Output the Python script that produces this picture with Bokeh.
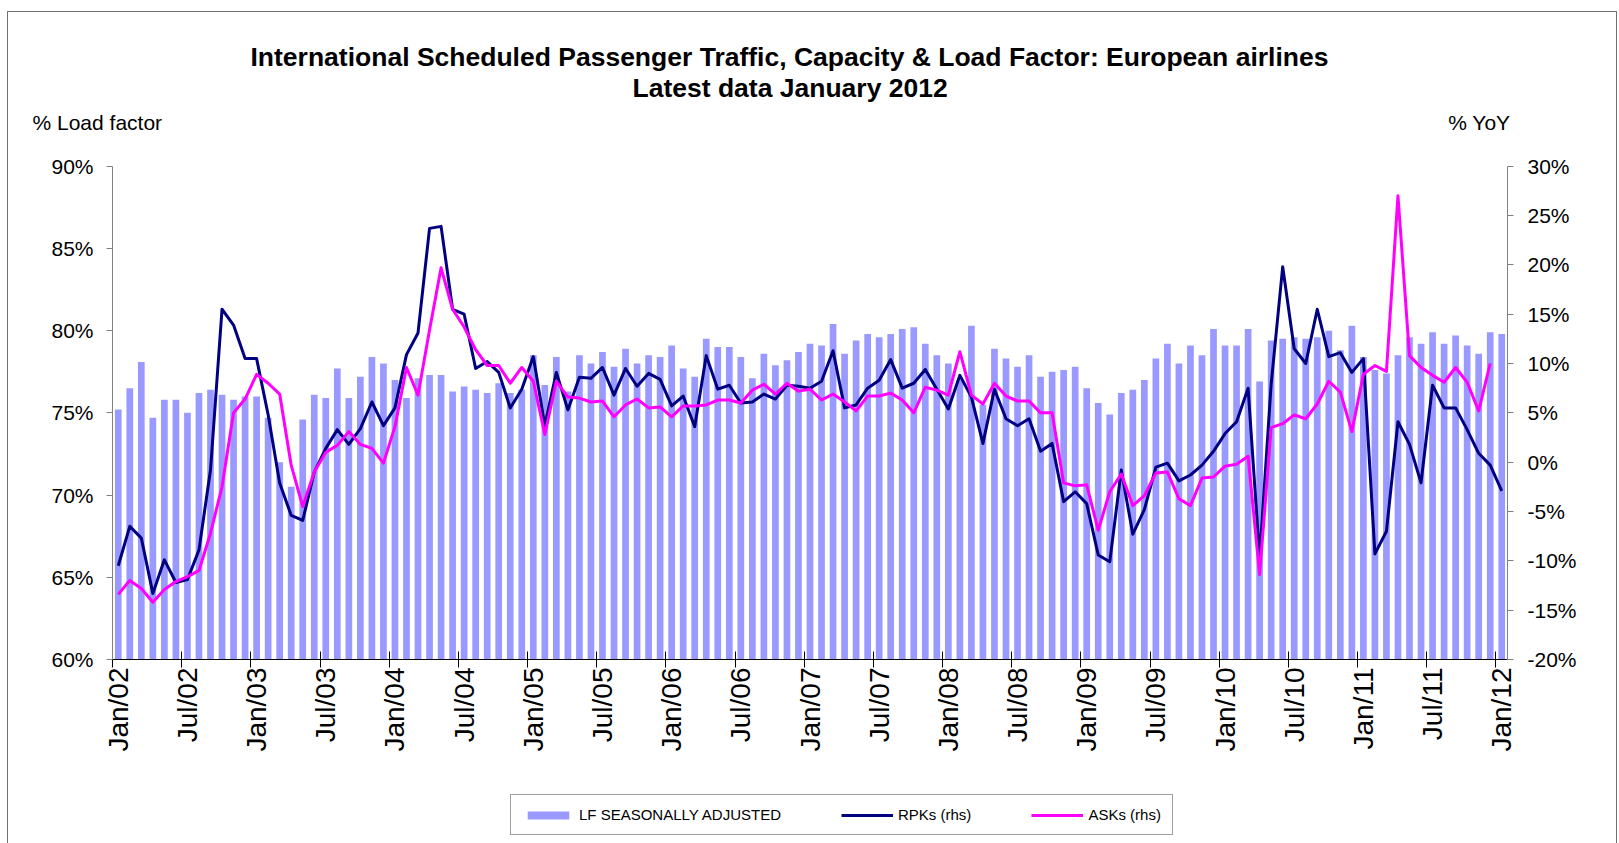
import math
from bokeh.plotting import figure
from bokeh.layouts import column
from bokeh.models import (Range1d, LinearAxis, FixedTicker, PrintfTickFormatter,
                          Legend, LegendItem, Title, ColumnDataSource)
from bokeh.embed import file_html
from bokeh.resources import INLINE

# LF seasonally adjusted (% load factor, lhs), Jan/02 .. Jan/12
lf = [75.2, 76.5, 78.1, 74.7, 75.8, 75.8, 75.0, 76.2, 76.4, 76.1, 75.8, 76.0,
      76.0, 74.7, 72.0, 70.5, 74.6, 76.1, 75.9, 77.7, 75.9, 77.2, 78.4, 78.0,
      77.0, 75.9, 77.1, 77.3, 77.3, 76.3, 76.6, 76.4, 76.2, 76.8, 76.2, 76.4,
      78.5, 76.7, 78.4, 76.3, 78.5, 78.0, 78.7, 77.8, 78.9, 78.0, 78.5, 78.4,
      79.1, 77.7, 77.2, 79.5, 79.0, 79.0, 78.4, 77.1, 78.6, 77.9, 78.2, 78.7,
      79.2, 79.1, 80.4, 78.6, 79.4, 79.8, 79.6, 79.8, 80.1, 80.2, 79.2, 78.5,
      78.0, 77.0, 80.3, 75.5, 78.9, 78.3, 77.8, 78.5, 77.2, 77.5, 77.6, 77.8,
      76.5, 75.6, 74.9, 76.2, 76.4, 77.0, 78.3, 79.2, 78.0, 79.1, 78.5, 80.1,
      79.1, 79.1, 80.1, 76.9, 79.4, 79.5, 79.6, 79.5, 79.6, 80.0, 78.8, 80.3,
      78.4, 77.6, 77.4, 78.5, 79.6, 79.2, 79.9, 79.2, 79.7, 79.1, 78.6, 79.9,
      79.8]

# RPKs % YoY (rhs)
rpk = [-10.5, -6.5, -7.7, -13.3, -9.9, -12.2, -11.9, -8.9, -0.8, 15.5, 13.9, 10.5,
       10.5, 4.8, -2.1, -5.4, -5.9, -1.0, 1.4, 3.3, 1.8, 3.4, 6.1, 3.7,
       5.5, 10.9, 13.1, 23.7, 23.9, 15.5, 15.0, 9.5, 10.2, 9.1, 5.5, 7.4,
       10.7, 3.7, 9.1, 5.3, 8.6, 8.5, 9.6, 6.8, 9.5, 7.7, 9.0, 8.4,
       5.7, 6.7, 3.6, 10.8, 7.4, 7.8, 6.0, 6.1, 6.9, 6.4, 7.8, 7.7,
       7.5, 8.2, 11.3, 5.5, 5.8, 7.5, 8.3, 10.4, 7.5, 8.0, 9.4, 7.4,
       5.4, 8.8, 6.6, 1.9, 7.4, 4.4, 3.7, 4.4, 1.1, 1.9, -4.0, -3.0,
       -4.2, -9.4, -10.1, -0.8, -7.3, -4.8, -0.5, -0.1, -1.9, -1.3, -0.3, 1.1,
       2.9, 4.1, 7.5, -9.7, 7.9, 19.8, 11.5, 10.0, 15.5, 10.7, 11.1, 9.1,
       10.5, -9.3, -7.0, 4.1, 1.8, -2.1, 7.8, 5.5, 5.5, 3.3, 0.9, -0.3,
       -2.9]

# ASKs % YoY (rhs); no value yet for Jan/12
ask = [-13.4, -12.0, -12.8, -14.2, -12.9, -12.1, -11.6, -11.0, -7.2, -2.5, 5.0, 6.4,
       8.9, 8.0, 6.9, -0.3, -4.5, -1.0, 1.0, 1.7, 3.1, 1.8, 1.4, -0.1,
       3.6, 9.6, 6.8, 13.4, 19.7, 15.5, 13.7, 11.4, 9.8, 9.8, 8.0, 9.6,
       8.2, 2.8, 8.2, 6.6, 6.5, 6.1, 6.2, 4.6, 5.8, 6.4, 5.5, 5.6,
       4.6, 5.7, 5.7, 5.8, 6.3, 6.3, 6.0, 7.3, 7.9, 6.9, 8.0, 7.2,
       7.4, 6.3, 6.9, 6.1, 5.2, 6.7, 6.7, 7.0, 6.3, 5.0, 7.6, 7.3,
       6.8, 11.2, 6.8, 5.9, 8.0, 6.7, 6.2, 6.2, 5.0, 5.0, -2.1, -2.4,
       -2.3, -6.9, -3.0, -1.2, -4.4, -3.4, -1.1, -1.0, -3.7, -4.4, -1.6, -1.5,
       -0.4, -0.2, 0.6, -11.4, 3.5, 3.9, 4.8, 4.4, 5.9, 8.2, 7.1, 3.1,
       8.9, 9.8, 9.2, 27.0, 10.8, 9.6, 8.8, 8.1, 9.6, 8.1, 5.2, 10.0,
       float("nan")]

tick_labels = ["Jan/02", "Jul/02", "Jan/03", "Jul/03", "Jan/04", "Jul/04", "Jan/05",
               "Jul/05", "Jan/06", "Jul/06", "Jan/07", "Jul/07", "Jan/08", "Jul/08",
               "Jan/09", "Jul/09", "Jan/10", "Jul/10", "Jan/11", "Jul/11", "Jan/12"]

lhs_ticks = [60, 65, 70, 75, 80, 85, 90]
rhs_ticks = [-20, -15, -10, -5, 0, 5, 10, 15, 20, 25, 30]

title_1 = "International Scheduled Passenger Traffic, Capacity & Load Factor: European airlines"
title_2 = "Latest data January 2012"
lhs_title = "% Load factor"
rhs_title = "% YoY"
series_names = ["LF SEASONALLY ADJUSTED", "RPKs (rhs)", "ASKs (rhs)"]

BAR_COLOR, RPK_COLOR, ASK_COLOR = "#9999FF", "#000080", "#FF00FF"

n = len(lf)
x = list(range(n))
src = ColumnDataSource(dict(x=x, lf=lf, rpk=rpk, ask=ask))

FONT = "Liberation Sans"
W, H_MAIN, H_LEG = 1619, 760, 83

# The frame reaches up to the header row; axes are bounded to the data span.
LHS_TOP = 90 + 43.7 / 16.443
RHS_TOP = 30 + 43.7 / 9.866

p = figure(width=W, height=H_MAIN, output_backend="svg", toolbar_location=None,
           x_range=Range1d(-0.5, n - 0.5), y_range=Range1d(60, LHS_TOP),
           min_border_left=112, min_border_right=112,
           min_border_top=122, min_border_bottom=101)
p.extra_y_ranges = {"rhs": Range1d(-20, RHS_TOP)}
p.outline_line_color = None
p.xgrid.visible = False
p.ygrid.visible = False
p.background_fill_color = "white"
p.border_fill_color = None
# outer chart frame (left, top and right edges)
p.styles = {"background-color": "white",
            "box-shadow": ("inset 7px 0 0 0 white, inset 0 11px 0 0 white, inset -2px 0 0 0 white, "
                           "inset 8px 0 0 0 #707070, inset 0 12px 0 0 #707070, inset -3px 0 0 0 #707070")}

bars = p.vbar(x="x", top="lf", bottom=60, width=0.58, source=src,
              fill_color=BAR_COLOR, line_color=None)
l_rpk = p.line("x", "rpk", source=src, y_range_name="rhs",
               line_color=RPK_COLOR, line_width=3, line_join="round")
l_ask = p.line("x", "ask", source=src, y_range_name="rhs",
               line_color=ASK_COLOR, line_width=3, line_join="round")

# x axis: labels every 6 months at bar centres, tick marks between categories
xa = p.xaxis[0]
major = list(range(0, n, 6))
xa.ticker = FixedTicker(ticks=major, minor_ticks=[k - 0.5 for k in major])
xa.major_label_overrides = {k: lab for k, lab in zip(major, tick_labels)}
xa.major_label_orientation = math.pi / 2
xa.major_tick_line_color = None
xa.major_tick_in = 0
xa.major_tick_out = 0
xa.minor_tick_in = 8
xa.minor_tick_out = 8
xa.minor_tick_line_color = "black"
xa.axis_line_color = "black"
xa.major_label_standoff = 0
xa.major_label_text_font = FONT
xa.major_label_text_font_size = "28px"
xa.major_label_text_color = "black"

ya = p.yaxis[0]
ya.bounds = (60, 90)
ya.ticker = FixedTicker(ticks=lhs_ticks)
ya.formatter = PrintfTickFormatter(format="%d%%")
ya.axis_line_color = "#808080"
ya.major_tick_line_color = "#808080"
ya.major_tick_in = 0
ya.major_tick_out = 6
ya.minor_tick_line_color = None
ya.major_label_standoff = 13
ya.major_label_text_font = FONT
ya.major_label_text_font_size = "21px"
ya.major_label_text_color = "black"

ra = LinearAxis(y_range_name="rhs", ticker=FixedTicker(ticks=rhs_ticks),
                formatter=PrintfTickFormatter(format="%d%%"), bounds=(-20, 30))
ra.axis_line_color = "#808080"
ra.major_tick_line_color = "#808080"
ra.major_tick_in = 0
ra.major_tick_out = 6
ra.minor_tick_line_color = None
ra.major_label_standoff = 14
ra.major_label_text_font = FONT
ra.major_label_text_font_size = "21px"
ra.major_label_text_color = "black"
p.add_layout(ra, "right")

# header row: two zero-height title panels sharing the same line
p.add_layout(Title(text=lhs_title, align="left", offset=-80, standoff=-25,
                   vertical_align="middle", text_font=FONT, text_font_size="21px",
                   text_font_style="normal", text_color="black"), "above")
p.add_layout(Title(text=rhs_title, align="right", offset=-3, standoff=-25,
                   vertical_align="middle", text_font=FONT, text_font_size="21px",
                   text_font_style="normal", text_color="black"), "above")
# chart titles
p.add_layout(Title(text=title_2, align="left", offset=520, standoff=38,
                   vertical_align="middle", text_font=FONT, text_font_style="bold",
                   text_font_size="26.5px", text_color="black"), "above")
p.add_layout(Title(text=title_1, align="left", offset=138, standoff=-39.6,
                   vertical_align="bottom", text_font=FONT, text_font_style="bold",
                   text_font_size="26.5px", text_color="black"), "above")

# legend strip below the chart; its series renderers are hidden, the legend shows them
q = figure(width=W, height=H_LEG, output_backend="svg", toolbar_location=None,
           x_range=Range1d(-0.5, n - 0.5), y_range=Range1d(60, 90),
           x_axis_location=None, y_axis_location=None, min_border=0)
q.extra_y_ranges = {"rhs": Range1d(-20, 30)}
q.outline_line_color = None
q.xgrid.visible = False
q.ygrid.visible = False
q.background_fill_color = None
q.border_fill_color = None
q.styles = {"background-color": "white",
            "box-shadow": ("inset 7px 0 0 0 white, inset -2px 0 0 0 white, "
                           "inset 8px 0 0 0 #707070, inset -3px 0 0 0 #707070")}
k_bar = q.vbar(x="x", top="lf", bottom=60, width=0.58, source=src,
               fill_color=BAR_COLOR, line_color=None, visible=False)
k_rpk = q.line("x", "rpk", source=src, y_range_name="rhs",
               line_color=RPK_COLOR, line_width=3, visible=False)
k_ask = q.line("x", "ask", source=src, y_range_name="rhs",
               line_color=ASK_COLOR, line_width=3, visible=False)

legend = Legend(items=[LegendItem(label=series_names[0], renderers=[k_bar]),
                       LegendItem(label=series_names[1], renderers=[k_rpk]),
                       LegendItem(label=series_names[2], renderers=[k_ask])],
                orientation="horizontal", location=(398, 8), margin=0, padding=11,
                glyph_width=52, glyph_height=10, label_standoff=5, spacing=60,
                border_line_color="#404040", border_line_width=1,
                background_fill_color="white",
                inactive_fill_alpha=0, click_policy="none",
                label_text_font=FONT, label_text_font_size="15px", label_text_color="black")
q.add_layout(legend, "center")

page = column(p, q, spacing=0)
open("out.html", "w").write(file_html(page, INLINE))
